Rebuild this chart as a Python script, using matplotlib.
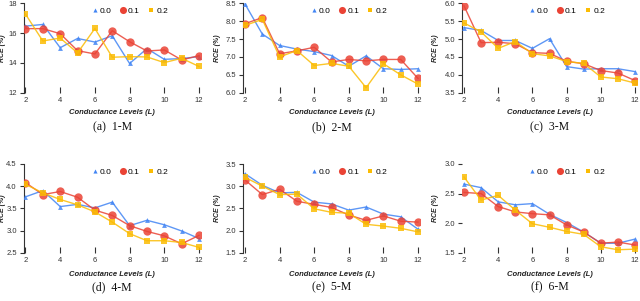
import matplotlib
matplotlib.use("Agg")
import matplotlib.pyplot as plt
from matplotlib.lines import Line2D

# data
levels = [2, 3, 4, 5, 6, 7, 8, 9, 10, 11, 12]
series_names = ["0.0", "0.1", "0.2"]
captions = ["(a)  1-M", "(b)  2-M", "(c)  3-M", "(d)  4-M", "(e)  5-M", "(f)  6-M"]

rce_1m_00 = [16.47, 16.58, 15.02, 15.64, 15.40, 15.82, 13.96, 14.96, 14.24, 14.29, 14.42]
rce_1m_01 = [16.30, 16.30, 15.96, 14.82, 14.60, 16.16, 15.42, 14.80, 14.87, 14.20, 14.49]
rce_1m_02 = [17.27, 15.47, 15.67, 14.67, 16.31, 14.38, 14.42, 14.40, 14.02, 14.31, 13.76]

rce_2m_00 = [8.48, 7.64, 7.32, 7.22, 7.15, 7.04, 6.74, 7.03, 6.67, 6.65, 6.67]
rce_2m_01 = [7.93, 8.10, 7.09, 7.17, 7.27, 6.86, 6.93, 6.89, 6.93, 6.93, 6.40]
rce_2m_02 = [7.88, 8.05, 7.00, 7.18, 6.76, 6.82, 6.74, 6.14, 6.81, 6.50, 6.24]

rce_3m_00 = [5.32, 5.24, 4.96, 4.96, 4.74, 5.01, 4.23, 4.16, 4.17, 4.17, 4.09]
rce_3m_01 = [5.93, 4.90, 4.91, 4.87, 4.62, 4.60, 4.38, 4.31, 4.12, 4.05, 3.84]
rce_3m_02 = [5.45, 5.20, 4.74, 4.93, 4.59, 4.53, 4.37, 4.32, 3.94, 3.89, 3.77]

rce_4m_00 = [3.76, 3.90, 3.54, 3.59, 3.51, 3.64, 3.11, 3.23, 3.13, 2.99, 2.82]
rce_4m_01 = [4.08, 3.81, 3.88, 3.75, 3.46, 3.34, 3.11, 2.98, 2.88, 2.70, 2.89]
rce_4m_02 = [4.04, 3.85, 3.70, 3.58, 3.42, 3.19, 2.93, 2.77, 2.77, 2.73, 2.62]

rce_5m_00 = [3.28, 3.02, 2.85, 2.86, 2.64, 2.60, 2.46, 2.53, 2.37, 2.31, 2.03]
rce_5m_01 = [3.14, 2.81, 2.93, 2.66, 2.59, 2.52, 2.35, 2.23, 2.33, 2.21, 2.19]
rce_5m_02 = [3.20, 3.00, 2.81, 2.82, 2.49, 2.41, 2.39, 2.14, 2.10, 2.05, 1.97]

rce_6m_00 = [2.66, 2.60, 2.36, 2.31, 2.33, 2.15, 2.01, 1.85, 1.66, 1.66, 1.73]
rce_6m_01 = [2.52, 2.50, 2.28, 2.19, 2.16, 2.14, 1.97, 1.85, 1.66, 1.68, 1.63]
rce_6m_02 = [2.78, 2.39, 2.47, 2.22, 1.99, 1.93, 1.86, 1.81, 1.60, 1.55, 1.56]

panels = [
    (rce_1m_00, rce_1m_01, rce_1m_02),
    (rce_2m_00, rce_2m_01, rce_2m_02),
    (rce_3m_00, rce_3m_01, rce_3m_02),
    (rce_4m_00, rce_4m_01, rce_4m_02),
    (rce_5m_00, rce_5m_01, rce_5m_02),
    (rce_6m_00, rce_6m_01, rce_6m_02),
]
y_limits = [(12, 18), (6.0, 8.5), (3.5, 6.0), (2.5, 4.5), (1.5, 3.5), (1.5, 3.0)]
y_steps = [2, 0.5, 0.5, 0.5, 0.5, 0.5]
y_formats = ["{:.0f}", "{:.1f}", "{:.1f}", "{:.1f}", "{:.1f}", "{:.1f}"]

colors = ["#4285f4", "#ea4335", "#fbbc04"]
markers = ["^", "o", "s"]
msizes = [3.5, 6, 4]

sans = ["Liberation Sans", "DejaVu Sans"]
serif = ["Liberation Serif", "DejaVu Serif"]

W, H = 640, 301
fig = plt.figure(figsize=(W / 100, H / 100), dpi=100)

# pixel layout: (x of L=2, x of L=12) per column, (top, bottom) per row
col_px = [(25.5, 199), (245, 418), (464, 635)]
row_px = [(3.3, 92.7), (164, 252.7)]
row_text = [(113, 127), (274, 287)]
ylabel_px = [6, 221, 439]
xlim = (1.9, 12.1)

for i, (vals, ylim, step, fmt, cap) in enumerate(zip(panels, y_limits, y_steps, y_formats, captions)):
    r, c = divmod(i, 3)
    x2, x12 = col_px[c]
    ppu = (x12 - x2) / 10.0
    left = x2 - (2 - xlim[0]) * ppu
    right = x12 + (xlim[1] - 12) * ppu
    top, bot = row_px[r]
    ax = fig.add_axes([left / W, 1 - bot / H, (right - left) / W, (bot - top) / H])

    for v, col, mk, ms in zip(vals, colors, markers, msizes):
        ax.plot(levels, v, color=col, lw=1.0, alpha=0.85, marker=mk, ms=ms,
                markerfacecolor=col, markeredgecolor=col, markeredgewidth=0, zorder=3)

    ax.set_xlim(*xlim)
    ax.set_ylim(*ylim)
    ax.set_xticks([2, 4, 6, 8, 10, 12])
    yt = []
    t = ylim[0]
    while t <= ylim[1] + 1e-9:
        yt.append(round(t, 2))
        t += step
    ax.set_yticks(yt)
    ax.set_yticklabels([fmt.format(t) for t in yt])

    for s in ["top", "right", "bottom"]:
        ax.spines[s].set_visible(False)
    if i == 5:
        ax.spines["left"].set_visible(False)
    ax.spines["left"].set_color("#333333")
    ax.spines["left"].set_linewidth(0.8)
    ax.tick_params(axis="x", direction="in", length=4, width=0.8, pad=3,
                   labelsize=5.5, colors="#333333")
    ax.tick_params(axis="y", direction="out", length=3, width=0.8, pad=2,
                   labelsize=5.5, colors="#333333")
    for lab in ax.get_xticklabels() + ax.get_yticklabels():
        lab.set_family(sans)

    ax.set_ylabel("RCE (%)", fontsize=5, fontweight="bold", fontstyle="italic",
                  family=sans, color="#222222")
    ax.yaxis.set_label_coords((ylabel_px[c] - left) / (right - left), 0.5)

    handles = [Line2D([0], [0], ls="none", marker=mk, ms=ms * 0.85, color=col,
                      markeredgewidth=0)
               for col, mk, ms in zip(colors, markers, msizes)]
    ax.legend(handles, series_names, loc="upper center", bbox_to_anchor=(0.6, 1.04),
              ncol=3, frameon=False, handlelength=0.7, handletextpad=0.25,
              columnspacing=1.0, prop={"family": sans, "size": 6})

    cx = (left + right) / 2
    fig.text(cx / W, 1 - row_text[r][0] / H, "Conductance Levels (L)", ha="center",
             va="center", fontsize=5.5, fontweight="bold", fontstyle="italic",
             family=sans, color="#222222")
    fig.text(cx / W, 1 - row_text[r][1] / H, cap, ha="center", va="center",
             fontsize=8.5, family=serif, color="#111111")

fig.savefig("out.png", dpi=100)
